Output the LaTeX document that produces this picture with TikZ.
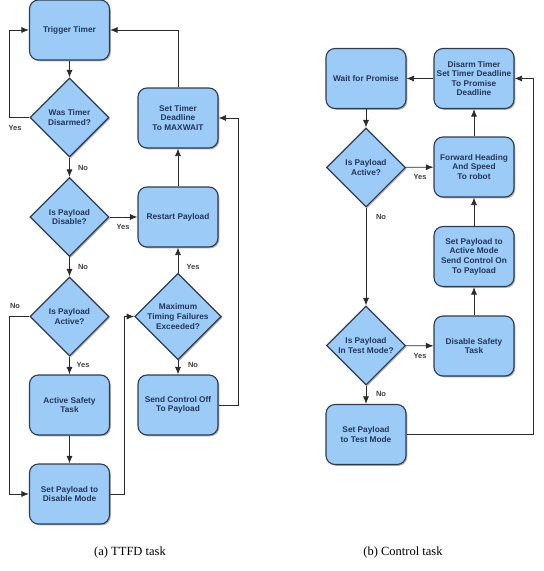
\documentclass[tikz,border=0pt]{standalone}
\usepackage{fontspec}
\setmainfont{Liberation Serif}
\newfontfamily\boxfont{Liberation Sans}
\usetikzlibrary{shapes.geometric,arrows.meta,shadows}
\definecolor{boxfill}{HTML}{9DCBF8}
\definecolor{boxline}{HTML}{2E3C50}
\definecolor{boxtext}{HTML}{22375A}
\definecolor{wire}{HTML}{2A2A2A}
\begin{document}
\begin{tikzpicture}[x=1pt,y=-1pt,
  base/.style={draw=boxline, fill=boxfill, line width=1.1pt, text=boxtext,
    font=\boxfont\bfseries\fontsize{8.3}{9.6}\selectfont, align=center,
    drop shadow={shadow xshift=1.3pt, shadow yshift=-1.3pt, opacity=0.45, fill=black!70}},
  procbox/.style={base, rectangle, rounded corners=9pt, minimum width=80pt,
    minimum height=60pt, inner sep=1pt},
  decision/.style={base, diamond, minimum width=79pt, minimum height=79pt,
    inner sep=0pt},
  flow/.style={draw=wire, line width=0.8pt, -{Latex[length=7.5pt,width=6pt]}},
  lbl/.style={text=black!75, font=\boxfont\bfseries\fontsize{7.5}{9}\selectfont},
  caption/.style={font=\fontsize{12.5}{14}\selectfont}]
\useasboundingbox (0,0) rectangle (544,571);

% (a) TTFD task
\node[procbox] (trig) at (69.5,30) {Trigger Timer};
\node[decision] (was) at (69.5,117.5) {Was Timer\\Disarmed?};
\node[decision] (dis) at (69.5,217) {Is Payload\\Disable?};
\node[decision] (act) at (69.5,316.5) {Is Payload\\Active?};
\node[procbox] (safety) at (69.5,405) {Active Safety\\Task};
\node[procbox] (setdis) at (69.5,494) {Set Payload to\\Disable Mode};
\node[procbox] (settimer) at (178,118) {Set Timer\\Deadline\\To MAXWAIT};
\node[procbox] (restart) at (178,217) {Restart Payload};
\node[decision] (maxfail) at (178,316.5) {Maximum\\Timing Failures\\Exceeded?};
\node[procbox] (sendoff) at (178,405) {Send Control Off\\To Payload};

\coordinate (wasloop) at (9,117.5);
\coordinate (actloop) at (9,316.5);
\coordinate (disjog) at (124,494);
\coordinate (offjog) at (238,405);

\path[flow] (trig) -- (was);
\path[flow] (was.west) -- (wasloop) |- (trig.west);
\path[flow] (was) -- (dis);
\path[flow] (dis) -- (restart);
\path[flow] (dis) -- (act);
\path[flow] (restart) -- (settimer);
\path[flow] (settimer.north) |- (trig.east);
\path[flow] (maxfail) -- (restart);
\path[flow] (act.west) -- (actloop) |- (setdis.west);
\path[flow] (act) -- (safety);
\path[flow] (safety) -- (setdis);
\path[flow] (setdis.east) -- (disjog) |- (maxfail.west);
\path[flow] (maxfail) -- (sendoff);
\path[flow] (sendoff.east) -- (offjog) |- (settimer.east);

\node[lbl] at (15,128) {Yes};
\node[lbl] at (83,168) {No};
\node[lbl] at (123,227) {Yes};
\node[lbl] at (83,267) {No};
\node[lbl] at (193,267) {Yes};
\node[lbl] at (15,306) {No};
\node[lbl] at (83,365) {Yes};
\node[lbl] at (193,365) {No};

% (b) Control task
\node[procbox] (wait) at (366,78.5) {Wait for Promise};
\node[procbox] (disarm) at (474,78.5) {Disarm Timer\\Set Timer Deadline\\To Promise\\Deadline};
\node[decision] (pact) at (366,167.5) {Is Payload\\Active?};
\node[procbox] (fwd) at (474,167) {Forward Heading\\And Speed\\To robot};
\node[procbox] (amode) at (474,256.5) {Set Payload to\\Active Mode\\Send Control On\\To Payload};
\node[decision] (ptest) at (366,345.5) {Is Payload\\In Test Mode?};
\node[procbox] (dsafe) at (474,346) {Disable Safety\\Task};
\node[procbox] (settest) at (366,434.5) {Set Payload\\to Test Mode};

\coordinate (testjog) at (533,434.5);

\path[flow] (wait) -- (pact);
\path[flow] (disarm) -- (wait);
\path[flow] (pact) -- (fwd);
\path[flow] (fwd) -- (disarm);
\path[flow] (pact) -- (ptest);
\path[flow] (amode) -- (fwd);
\path[flow] (ptest) -- (dsafe);
\path[flow] (dsafe) -- (amode);
\path[flow] (ptest) -- (settest);
\path[flow] (settest.east) -- (testjog) |- (disarm.east);

\node[lbl] at (420,177) {Yes};
\node[lbl] at (381,217) {No};
\node[lbl] at (420,356) {Yes};
\node[lbl] at (381,394) {No};

\node[caption] (capa) at (130,552) {(a) TTFD task};
\node[caption] (capb) at (403,552) {(b) Control task};
\end{tikzpicture}
\end{document}
